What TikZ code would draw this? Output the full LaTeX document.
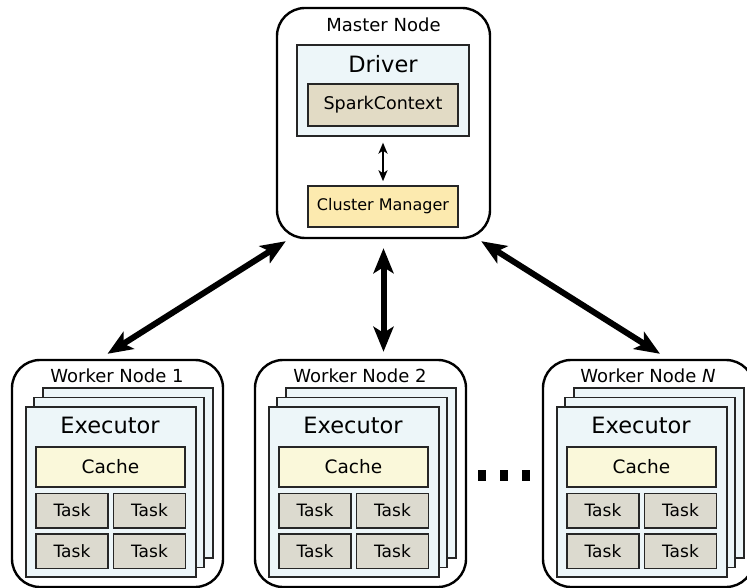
\documentclass[tikz,border=0pt]{standalone}
\usepackage{fontspec}
\setmainfont{DejaVu Sans}
\usetikzlibrary{arrows.meta}

\definecolor{procfill}{HTML}{EDF6F9}
\definecolor{sparkfill}{HTML}{E2DBC5}
\definecolor{clusterfill}{HTML}{FCEAAF}
\definecolor{cachefill}{HTML}{FAF8DA}
\definecolor{taskfill}{HTML}{DCDACF}

\tikzset{
  machine/.style = {draw=black, line width=2.4pt, rounded corners=28pt, inner sep=0pt},
  process/.style = {draw=black!85, line width=1.3pt, fill=procfill, inner sep=0pt},
  part/.style    = {draw=black!85, line width=1.5pt, inner sep=0pt},
  title/.style   = {anchor=base, inner sep=0pt, font=\fontsize{18}{21}\selectfont},
  heading/.style = {anchor=base, inner sep=0pt, font=\fontsize{22.5}{26}\selectfont},
  task/.style    = {part, fill=taskfill, minimum width=72pt, minimum height=34.5pt,
                    font=\fontsize{17}{20}\selectfont},
  bigarrow/.style   = {line width=6pt, {Stealth[length=25pt,width=20pt,inset=6pt]}-{Stealth[length=25pt,width=20pt,inset=6pt]}},
  smallarrow/.style = {line width=2pt, {Stealth[length=11pt,width=9pt,inset=3pt]}-{Stealth[length=11pt,width=9pt,inset=3pt]}}
}

\begin{document}
\begin{tikzpicture}[x=1pt, y=-1pt]
  \useasboundingbox (0,0) rectangle (747,588);

  % master node with the driver and the cluster manager
  \node[machine, minimum width=213pt, minimum height=230pt] (master) at (383.5,123) {};
  \node[title] (mastertitle) at (383.5,32) {Master Node};
  \node[process, minimum width=172pt, minimum height=91pt] (driver) at (383,90.5) {};
  \node[heading] (drivertitle) at (383,73) {Driver};
  \node[part, fill=sparkfill, minimum width=150pt, minimum height=42pt,
        font=\fontsize{17.5}{20}\selectfont] (spark) at (383,105) {SparkContext};
  \node[part, fill=clusterfill, minimum width=150pt, minimum height=41pt,
        font=\fontsize{16}{19}\selectfont] (cluster) at (383,206.5) {Cluster Manager};
  \draw[smallarrow, shorten <=6pt, shorten >=4pt] (driver.south -| cluster.north) -- (cluster.north);

  % worker nodes, each with a stack of executors
  \foreach \i/\L/\name in {1/12/{Worker Node 1}, 2/255/{Worker Node 2}, 3/543/{Worker Node \textit{N}}} {
    \node[machine, minimum width=211pt, minimum height=227pt] (w\i) at (\L+105.5,473.5) {};
    \node[title] (w\i title) at (\L+105,382) {\name};
    \node[process, minimum width=170pt, minimum height=170pt] (w\i back) at (\L+116,473) {};
    \node[process, minimum width=170pt, minimum height=170pt] (w\i mid) at (\L+107,482.5) {};
    \node[process, minimum width=170pt, minimum height=170pt] (w\i exec) at (\L+99,492) {};
    \node[heading] (w\i head) at (\L+98,433) {Executor};
    \node[part, fill=cachefill, minimum width=149pt, minimum height=40pt,
          font=\fontsize{18.5}{21}\selectfont] (w\i cache) at (\L+98.5,467) {Cache};
    \node[task] (w\i t1) at (\L+60,510.5) {Task};
    \node[task] (w\i t2) at (\L+137.5,510.5) {Task};
    \node[task] (w\i t3) at (\L+60,551) {Task};
    \node[task] (w\i t4) at (\L+137.5,551) {Task};
  }

  % dots between the second and the last worker
  \foreach \x [count=\k] in {482,504,526}
    \node[fill=black, minimum width=8pt, minimum height=11pt, inner sep=0pt] (dot\k) at (\x,475.5) {};

  % links between master and workers
  \draw[bigarrow] ([shift={(10pt,-2pt)}]master.south west) -- ([shift={(-10pt,5pt)}]w1.north);
  \draw[bigarrow, shorten <=9pt, shorten >=7pt] (master.south) -- (master.south |- w2.north);
  \draw[bigarrow] ([shift={(-10pt,-2pt)}]master.south east) -- ([shift={(11.5pt,5pt)}]w3.north);
\end{tikzpicture}
\end{document}
